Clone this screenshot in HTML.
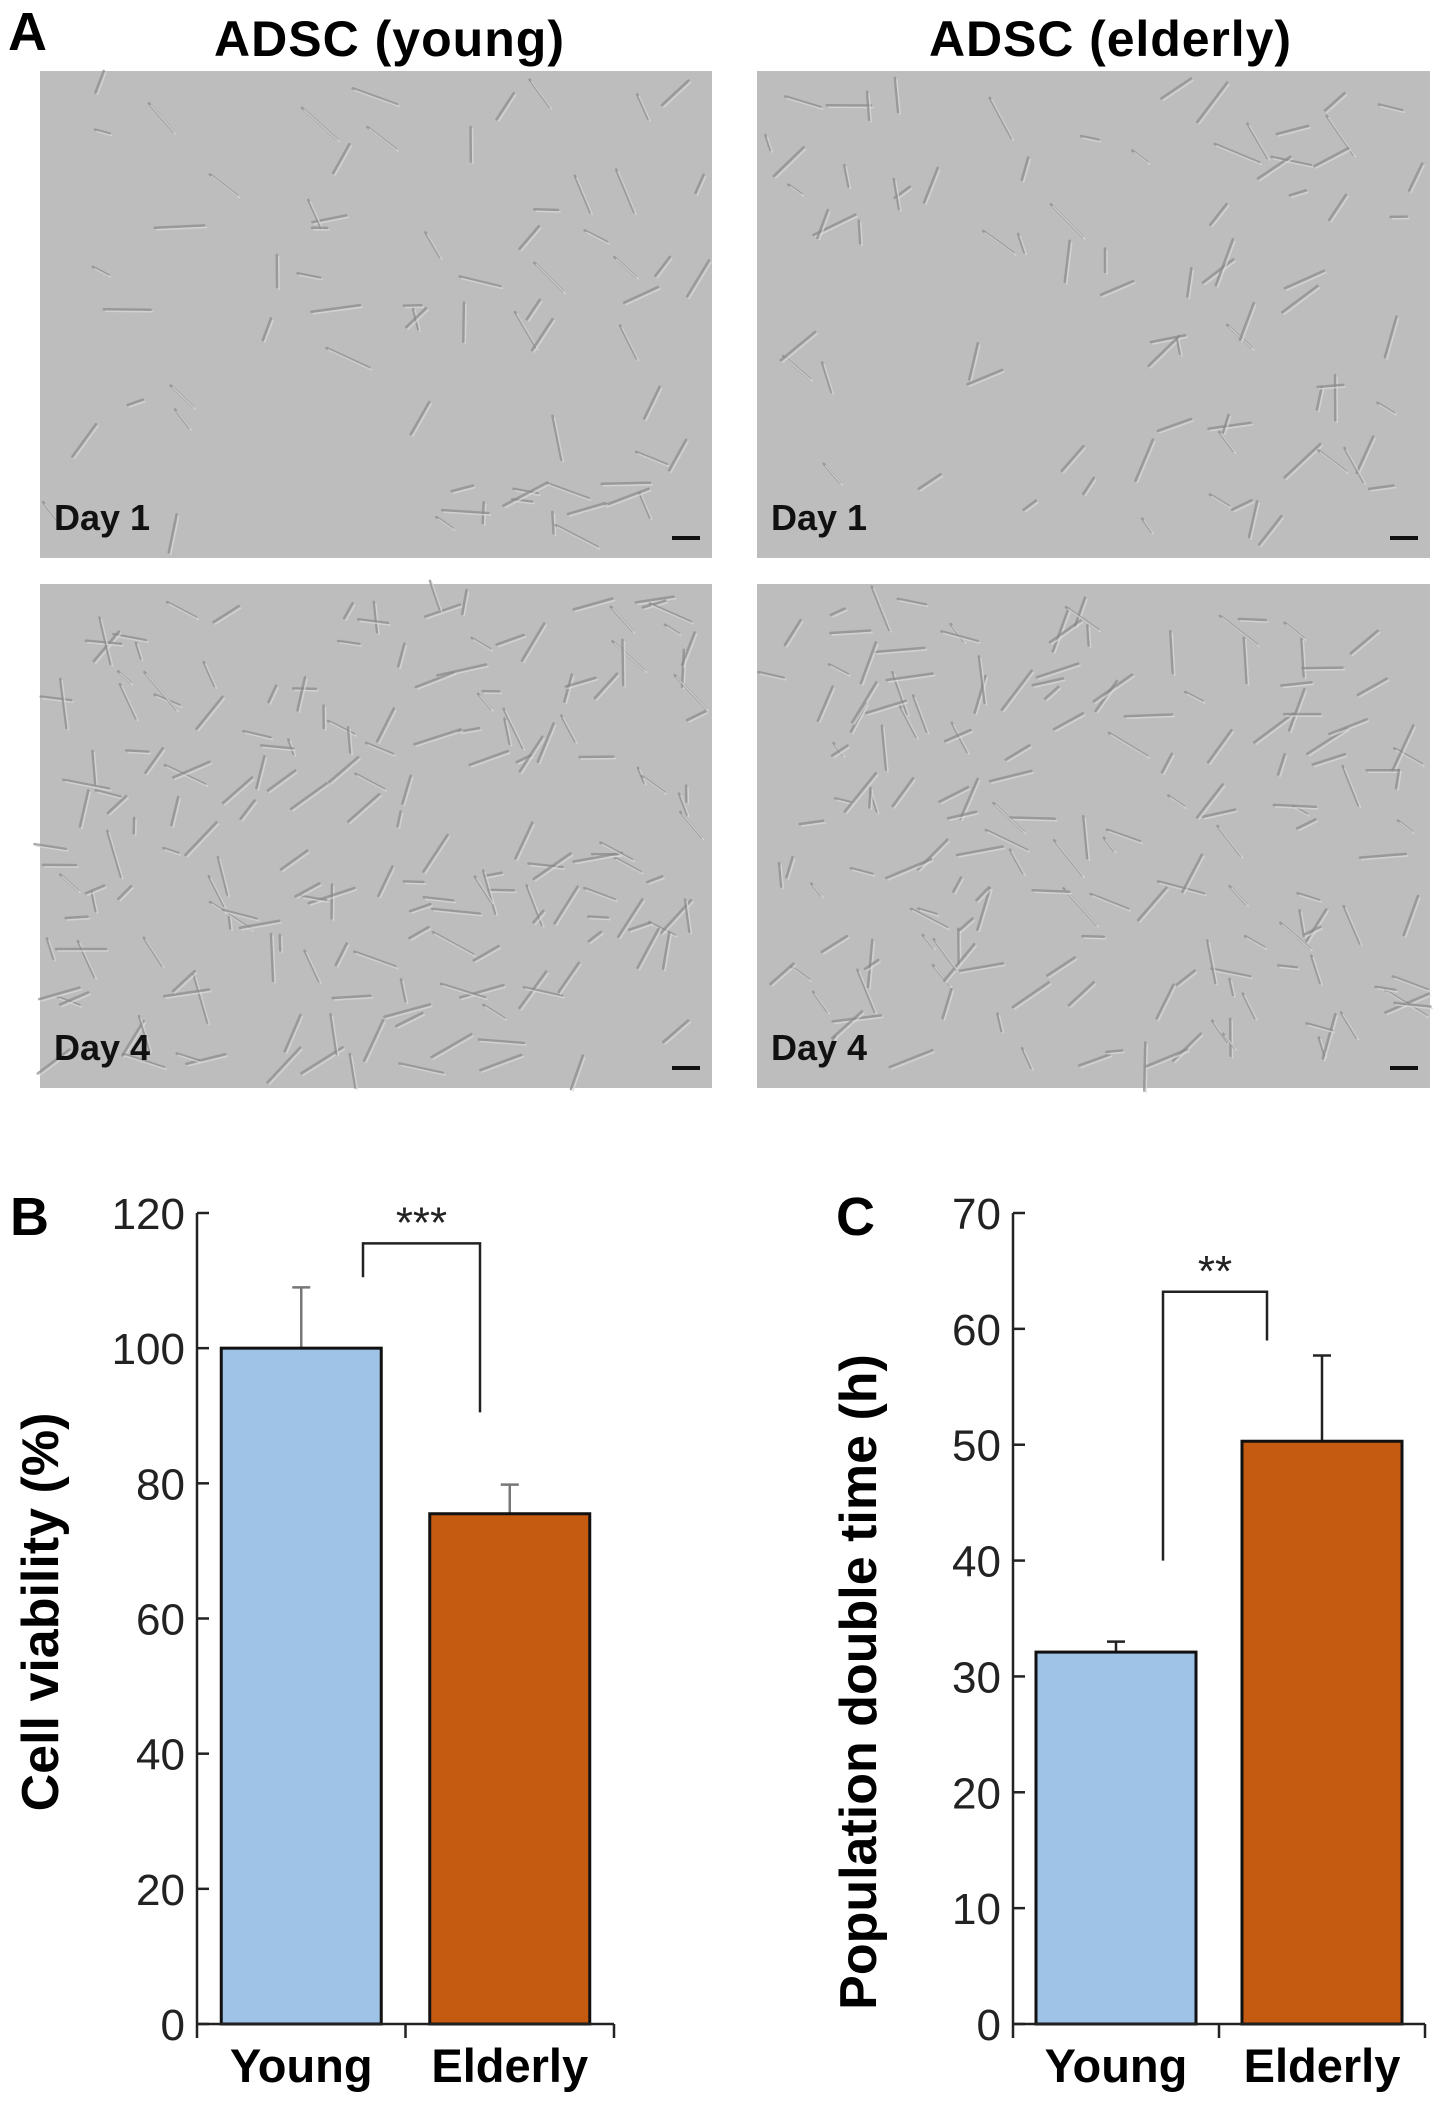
<!DOCTYPE html>
<html><head><meta charset="utf-8">
<style>
html,body{margin:0;padding:0;background:#fff;}
body{width:1441px;height:2102px;position:relative;overflow:hidden;font-family:"Liberation Sans",Arial,sans-serif;}
svg text{font-family:"Liberation Sans",Arial,sans-serif;}
</style></head>
<body>
<svg id="fig" width="1441" height="2102" viewBox="0 0 1441 2102" xmlns="http://www.w3.org/2000/svg">
  <text x="8" y="50" font-size="54" font-weight="bold">A</text>
  <text x="389" y="56" font-size="50" font-weight="bold" text-anchor="middle" textLength="350">ADSC (young)</text>
  <text x="1110" y="56" font-size="50" font-weight="bold" text-anchor="middle" textLength="362">ADSC (elderly)</text>
  <g id="photos"></g>
  <g id="chartB"></g>
  <g id="chartC"></g>
</svg>
<script>
// ---- chart data ----
const categories = ["Young", "Elderly"];
const viabilityValues = [100, 75.5];
const viabilityErrors = [9, 4.3];
const viabilityTicks = [0, 20, 40, 60, 80, 100, 120];
const doublingValues = [32.1, 50.3];
const doublingErrors = [0.9, 7.4];
const doublingTicks = [0, 10, 20, 30, 40, 50, 60, 70];

const NS = "http://www.w3.org/2000/svg";
function mk(tag, attrs, parent, text) {
  const e = document.createElementNS(NS, tag);
  for (const k in attrs) e.setAttribute(k, attrs[k]);
  if (text !== undefined) e.textContent = text;
  parent.appendChild(e);
  return e;
}

// ---- micrograph placeholders ----
const photos = document.getElementById("photos");
const panels = [
  {x: 40, y: 71, w: 672, h: 487, label: "Day 1", n: 70, name: "young-day1"},
  {x: 757, y: 71, w: 673, h: 487, label: "Day 1", n: 80, name: "elderly-day1"},
  {x: 40, y: 584, w: 672, h: 504, label: "Day 4", n: 190, name: "young-day4"},
  {x: 757, y: 584, w: 673, h: 504, label: "Day 4", n: 170, name: "elderly-day4"}
];
let seed = 7;
function rnd() { seed = (seed * 16807) % 2147483647; return seed / 2147483647; }
panels.forEach(p => {
  const g = mk("g", {}, photos);
  
  
  mk("rect", {x: p.x, y: p.y, width: p.w, height: p.h, fill: "#bdbdbd"}, g);
  for (let i = 0; i < p.n; i++) {
    const cx = p.x + 10 + rnd() * (p.w - 20), cy = p.y + 10 + rnd() * (p.h - 20);
    const a = rnd() * Math.PI, L = 15 + rnd() * 35;
    const dx = Math.cos(a) * L / 2, dy = Math.sin(a) * L / 2;
    mk("line", {x1: cx - dx, y1: cy - dy, x2: cx + dx, y2: cy + dy, stroke: "#8a8a8a", "stroke-width": 2.5, "stroke-linecap": "round", opacity: 0.7}, g);
    mk("line", {x1: cx - dx + 2, y1: cy - dy + 2, x2: cx + dx + 2, y2: cy + dy + 2, stroke: "#dcdcdc", "stroke-width": 1.5, "stroke-linecap": "round", opacity: 0.7}, g);
  }
  const t = mk("text", {x: p.x + 14, y: p.y + p.h - 28, "font-size": 36, "font-weight": "bold", fill: "#111"}, g, p.label);
  
  
  const sb = mk("rect", {x: p.x + p.w - 40, y: p.y + p.h - 22, width: 28, height: 4, fill: "#111"}, g);
  
  
});

// ---- bar chart ----
function barChart(cfg) {
  const g = document.getElementById(cfg.id);
  const {x0, x1, y0, y1, ticks, values, errors} = cfg;
  const vmax = ticks[ticks.length - 1];
  const Y = v => y0 - (v / vmax) * (y0 - y1);
  const band = (x1 - x0) / categories.length;
  const X = i => x0 + band * (i + 0.5);
  const bw = 160;

  const pl = mk("text", {x: cfg.labelX, y: y1 + 22, "font-size": 54, "font-weight": "bold"}, g, cfg.panel);
  
  

  values.forEach((v, i) => {
    const eb = mk("g", {}, g);
    
    
    mk("line", {x1: X(i), x2: X(i), y1: Y(v), y2: Y(v + errors[i]), stroke: cfg.errColor[i], "stroke-width": 2.5}, eb);
    mk("line", {x1: X(i) - 9, x2: X(i) + 9, y1: Y(v + errors[i]), y2: Y(v + errors[i]), stroke: cfg.errColor[i], "stroke-width": 2.5}, eb);
    const r = mk("rect", {x: X(i) - bw / 2, y: Y(v), width: bw, height: y0 - Y(v), fill: i === 0 ? "#9fc2e7" : "#c55a11", stroke: "#111", "stroke-width": 3}, g);
    
    
    const lt = mk("text", {x: X(i), y: y0 + 58, "font-size": 47, "font-weight": "bold", "text-anchor": "middle"}, g, categories[i]);
    
    
  });

  const ax = mk("g", {}, g);
  
  
  mk("line", {x1: x0, x2: x0, y1: y1, y2: y0 + 14, stroke: "#222", "stroke-width": 2.5}, ax);
  ticks.forEach(t => {
    mk("line", {x1: x0, x2: x0 + 12, y1: Y(t), y2: Y(t), stroke: "#222", "stroke-width": 2.5}, ax);
    const tl = mk("text", {x: x0 - 12, y: Y(t) + 16, "font-size": 44, "text-anchor": "end", fill: "#222"}, ax, String(t));
    
    
  });
  const xa = mk("g", {}, g);
  
  
  mk("line", {x1: x0, x2: x1, y1: y0, y2: y0, stroke: "#222", "stroke-width": 2.5}, xa);
  [x0 + band, x1].forEach(x => mk("line", {x1: x, x2: x, y1: y0, y2: y0 + 14, stroke: "#222", "stroke-width": 2.5}, xa));

  const yt = mk("text", {x: 0, y: 0, "font-size": 52, "font-weight": "bold", "text-anchor": "middle", transform: `translate(${cfg.ytX},${cfg.ytY}) rotate(-90)`}, g, cfg.yTitle);
  
  

  const br = mk("g", {}, g);
  
  
  const b = cfg.bracket;
  mk("polyline", {points: `${b.xl},${Y(b.yl)} ${b.xl},${Y(b.top)} ${b.xr},${Y(b.top)} ${b.xr},${Y(b.yr)}`, fill: "none", stroke: "#222", "stroke-width": 2.5}, br);
  mk("text", {x: (b.xl + b.xr) / 2, y: Y(b.top) - 6, "font-size": 44, "text-anchor": "middle", fill: "#222"}, br, b.stars);
}

barChart({id: "chartB", panel: "B", labelX: 10, x0: 197, x1: 614, y0: 2024, y1: 1213,
  ticks: viabilityTicks, values: viabilityValues, errors: viabilityErrors,
  errColor: ["#777", "#777"], yTitle: "Cell viability (%)", ytX: 58, ytY: 1612,
  bracket: {xl: 363, xr: 480, yl: 110.5, yr: 90.5, top: 115.5, stars: "***"}});
barChart({id: "chartC", panel: "C", labelX: 836, x0: 1013, x1: 1425, y0: 2024, y1: 1213,
  ticks: doublingTicks, values: doublingValues, errors: doublingErrors,
  errColor: ["#222", "#222"], yTitle: "Population double time (h)", ytX: 876, ytY: 1682,
  bracket: {xl: 1163, xr: 1267, yl: 40, yr: 59, top: 63.2, stars: "**"}});
</script>
</body></html>
